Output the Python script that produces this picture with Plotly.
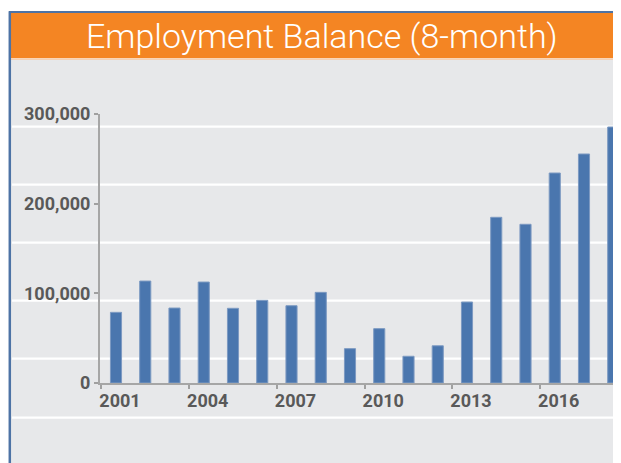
import plotly.graph_objects as go

# Employment balance, 8-month, by year
years = [str(y) for y in range(2001, 2019)]
balance = [78800, 113700, 83600, 112600, 83300, 92200, 86200, 101100, 38300,
           60600, 29800, 41500, 90300, 184800, 177000, 234200, 255400, 285500]
y_ticks = [0, 100000, 200000, 300000]
y_labels = ["0", "100,000", "200,000", "300,000"]

OFF = 8  # page margin around the plot div
W, H = 621 - OFF, 463 - OFF
L, R, T, B = 100 - OFF, 0, 114.3 - OFF, H - (383.3 - OFF)


def px_x(px):
    # window pixel -> paper x
    return (px - OFF - L) / (W - L - R)


def px_y(py):
    # window pixel -> paper y
    return (H - B - (py - OFF)) / (H - T - B)


fig = go.Figure(go.Bar(
    x=years, y=balance,
    marker_color="#4a76ae",
    marker_line_color="#7d9ac2", marker_line_width=1,
    width=0.38,
))

right = 621 + 20
bottom = 463 + 20
shapes = [
    # gray panel
    dict(type="rect", xref="paper", yref="paper", layer="below",
         x0=px_x(11), x1=px_x(right), y0=px_y(bottom), y1=px_y(59),
         fillcolor="#e7e8ea", line_width=0),
    # orange title bar
    dict(type="rect", xref="paper", yref="paper", layer="below",
         x0=px_x(11), x1=px_x(right), y0=px_y(58.3), y1=px_y(13),
         fillcolor="#f48523", line_width=0),
    dict(type="line", xref="paper", yref="paper", layer="below",
         x0=px_x(11), x1=px_x(right), y0=px_y(59.2), y1=px_y(59.2),
         line=dict(color="#f8c9a0", width=1.5)),
    # blue frame
    dict(type="line", xref="paper", yref="paper", layer="below",
         x0=px_x(9), x1=px_x(right), y0=px_y(12.3), y1=px_y(12.3),
         line=dict(color="#4d73a5", width=2)),
    dict(type="line", xref="paper", yref="paper", layer="below",
         x0=px_x(9.8), x1=px_x(9.8), y0=px_y(11.5), y1=px_y(bottom),
         line=dict(color="#4d73a5", width=2.5)),
]
# white background stripes
for py in [127, 185, 243, 301, 359, 418]:
    shapes.append(dict(type="line", xref="paper", yref="paper", layer="below",
                       x0=px_x(12), x1=px_x(right), y0=px_y(py), y1=px_y(py),
                       line=dict(color="#ffffff", width=2.2)))

tick_font = dict(family="Roboto", size=18, color="#595959", weight="bold")

fig.update_layout(
    width=W, height=H,
    margin=dict(l=L, r=R, t=T, b=B, pad=0, autoexpand=False),
    paper_bgcolor="#ffffff",
    plot_bgcolor="rgba(0,0,0,0)",
    showlegend=False,
    shapes=shapes,
    annotations=[dict(
        text="Employment Balance (8-month)", xref="paper", yref="paper",
        x=px_x(322), y=px_y(36), xanchor="center", yanchor="middle",
        showarrow=False,
        font=dict(family="Roboto Light, Roboto", size=34, color="#ffffff",
                  weight=300),
    )],
    xaxis=dict(
        type="category", range=[-0.547, 17.265], automargin=False,
        tickmode="linear", tick0=0, dtick=3, tickson="boundaries",
        ticks="outside", ticklen=4, tickcolor="#a0a0a0", tickwidth=1.5,
        showline=True, linecolor="#a6a6a6", linewidth=2, tickangle=0,
        showgrid=False, tickfont=tick_font, ticklabelshift=4,
    ),
    yaxis=dict(
        range=[0, 300000], tickvals=y_ticks, ticktext=y_labels,
        automargin=False,
        ticks="outside", ticklen=4, tickcolor="#a0a0a0", tickwidth=1.5,
        showline=True, linecolor="#a6a6a6", linewidth=2,
        showgrid=False, zeroline=False, tickfont=tick_font,
    ),
)

fig.write_html("out.html")
